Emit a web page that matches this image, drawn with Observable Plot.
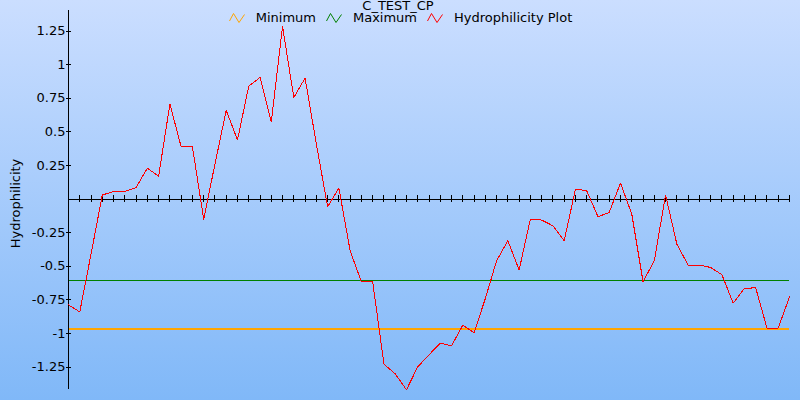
<!DOCTYPE html>
<html>
<head>
<meta charset="utf-8">
<script src="https://cdn.jsdelivr.net/npm/d3@7"></script>
<script src="https://cdn.jsdelivr.net/npm/@observablehq/plot@0.6"></script>
<style>
  html, body { margin: 0; padding: 0; }
  body { font-family: "DejaVu Sans", sans-serif; }
  #wrap {
    position: relative; width: 800px; height: 400px; overflow: hidden;
    background: linear-gradient(to bottom, #cbdeff, #80b8f8);
  }
  #title {
    position: absolute; left: 0; width: 796px; top: -1px; text-align: center;
    font-size: 13px; line-height: 13px; color: #000;
  }
  #legend {
    position: absolute; left: 0; width: 801px; top: 12px;
    display: flex; justify-content: center; align-items: center;
    font-size: 13px; line-height: 12px; color: #000;
  }
  .item { display: flex; align-items: center; margin: 0 5px; }
  .item svg { margin-right: 11px; }
  #chart { position: absolute; left: 0; top: 0; }
</style>
</head>
<body>
<div id="wrap">
  <div id="chart"></div>
  <div id="title"></div>
  <div id="legend"></div>
</div>
<script>
// ---- data ----
const title = "C_TEST_CP";
const yLabel = "Hydrophilicity";
const seriesNames = ["Minimum", "Maximum", "Hydrophilicity Plot"];
const seriesColors = ["#ffa500", "#008000", "#ff0000"];
const hydro = [
  -0.787, -0.84, -0.41, 0.03, 0.057, 0.057, 0.086, 0.23, 0.17, 0.707,
  0.389, 0.389, -0.149, 0.26, 0.66, 0.44, 0.84, 0.905, 0.575, 1.284,
  0.756, 0.9, 0.41, -0.057, 0.082, -0.385, -0.615, -0.615, -1.228, -1.30,
  -1.419, -1.248, -1.159, -1.072, -1.092, -0.938, -0.995, -0.74, -0.459, -0.31,
  -0.528, -0.149, -0.156, -0.199, -0.31, 0.074, 0.062, -0.132, -0.099, 0.119,
  -0.112, -0.615, -0.459, 0.03, -0.335, -0.491, -0.491, -0.509, -0.563, -0.774,
  -0.665, -0.66, -0.96, -0.96, -0.727
];
const minimumValue = -0.967;
const maximumValue = -0.603;
const yTicks = [1.25, 1, 0.75, 0.5, 0.25, -0.25, -0.5, -0.75, -1, -1.25];
const yDomain = [-1.417, 1.403];

// ---- chart ----
const idx = hydro.map((d, i) => i);
const crisp = "crispEdges";
const chart = Plot.plot({
  width: 800, height: 400,
  marginLeft: 68, marginRight: 11, marginTop: 10, marginBottom: 11,
  x: {domain: [0, hydro.length - 1], axis: null},
  y: {domain: yDomain},
  style: {background: "transparent", fontFamily: "DejaVu Sans, sans-serif", fontSize: "13px", color: "#000", overflow: "visible"},
  marks: [
    Plot.ruleY([maximumValue], {stroke: seriesColors[1], strokeWidth: 1, shapeRendering: crisp}),
    Plot.ruleY([minimumValue], {stroke: seriesColors[0], strokeWidth: 2, shapeRendering: crisp}),
    Plot.ruleY([0], {stroke: "#000", shapeRendering: crisp}),
    Plot.ruleX(idx, {x: d => d, y1: 0, y2: 0, insetTop: -3.5, insetBottom: -3.5, stroke: "#000", shapeRendering: crisp}),
    Plot.ruleX([0], {stroke: "#000", shapeRendering: crisp}),
    Plot.ruleY(yTicks, {y: d => d, x1: 0, x2: 0, insetLeft: -2.5, insetRight: -2.5, stroke: "#000", shapeRendering: crisp}),
    Plot.axisY(yTicks, {tickSize: 0, tickPadding: 3, tickFormat: d => String(d), label: null}),
    Plot.text([yLabel], {text: d => d, frameAnchor: "left", textAnchor: "middle", rotate: -90, dx: -53, dy: 3.5, fill: "#000"}),
    Plot.line(hydro, {x: (d, i) => i, y: d => d, stroke: seriesColors[2], strokeWidth: 1, shapeRendering: crisp})
  ]
});
document.getElementById("chart").appendChild(chart);

document.getElementById("title").textContent = title;
const legend = document.getElementById("legend");
seriesNames.forEach((name, k) => {
  const item = document.createElement("div");
  item.className = "item";
  item.innerHTML = `<svg width="16" height="12" viewBox="0 0 16 12"><polyline points="0.5,9 4.5,1.5 10,10.5 15.5,2.5" fill="none" stroke="${seriesColors[k]}" stroke-width="1"/></svg><span>${name}</span>`;
  legend.appendChild(item);
});
</script>
</body>
</html>
